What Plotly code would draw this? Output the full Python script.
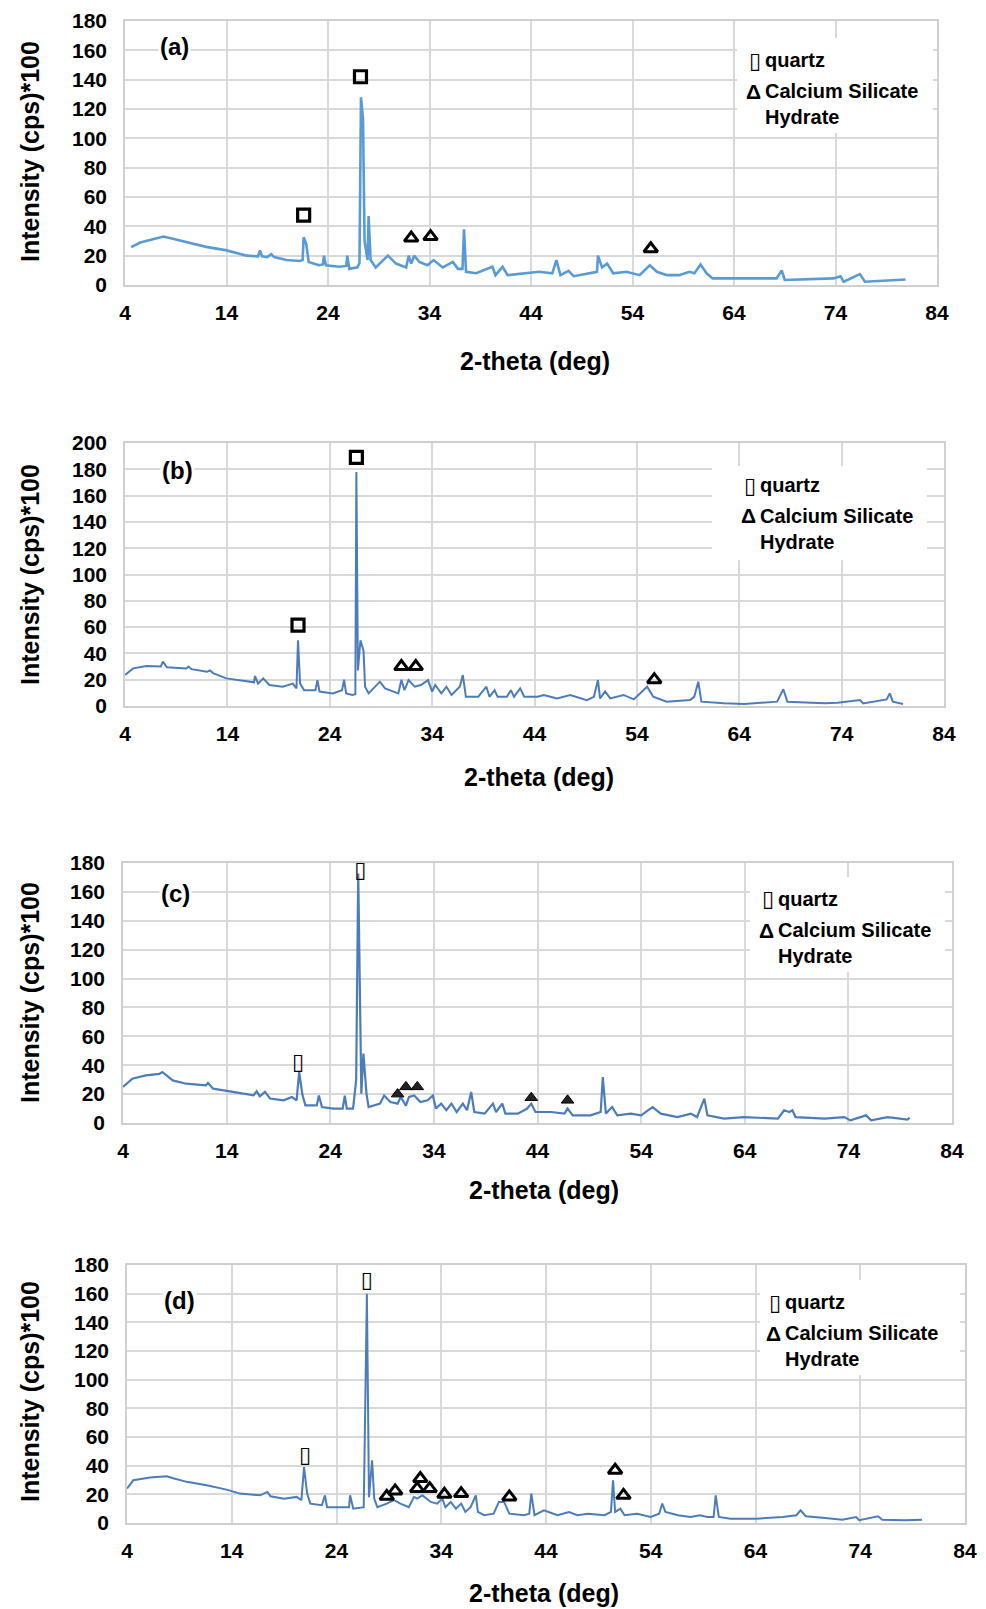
import plotly.graph_objects as go

# page body adds an 8px offset; the figure fills the rest of the 986x1609 window
OFF = 8
W, H = 986 - OFF, 1609 - OFF

# ---------------- data (2-theta in deg, intensity in cps*100) ----------------
A_X = [4.6, 5.5, 7.8, 9.7, 12, 14, 16, 17.1, 17.3, 17.5, 18, 18.4, 18.7, 19.9, 21.2, 21.5, 21.6, 21.85, 22.1,
       23.1, 23.5, 23.6, 23.8, 25.1, 25.8, 25.9, 26.1, 26.9, 27.1, 27.25, 27.45, 27.6, 27.9, 28.0, 28.2, 28.7,
       29.9, 30.7, 31.7, 31.95, 32.2, 32.5, 33, 33.8, 34.4, 35.3, 36.3, 36.8, 37.25, 37.4, 37.6, 38.6, 40.2,
       40.5, 41.2, 41.7, 42.9, 44.8, 46.1, 46.5, 46.9, 47.7, 48.2, 50, 50.5, 50.6, 51, 51.5, 52.1, 53.4, 54.7,
       55.7, 56.4, 57.4, 58.6, 59.6, 60.1, 60.7, 61.3, 61.9, 63.9, 68.2, 68.7, 69, 73.8, 74.5, 74.8, 76.4,
       76.9, 80.9]
A_Y = [25.8, 29, 33, 30, 26, 23.6, 20, 19.5, 23.6, 19.5, 19, 21, 19, 17, 16.4, 17, 32.6, 28, 15.7,
       13.5, 14, 20, 13.5, 12.4, 13, 20, 11, 12, 15, 128, 113.5, 30, 17, 47, 17, 12,
       20, 14.6, 12, 20, 14.6, 20, 15.7, 13.5, 17, 12, 15.7, 11, 11, 38, 9, 8, 12.4,
       6.7, 12.4, 6.7, 7.4, 9, 8, 17, 6.7, 9.7, 6, 8, 9, 20, 12, 14.6, 8, 9, 6.7,
       13.5, 9, 6.7, 6.7, 9, 8, 14, 8, 4.5, 4.5, 4.5, 10, 3.4, 4.5, 6, 2.2, 7.4,
       2.2, 3.8]
A_QX = [21.6, 27.2]
A_QY = [47.6, 142]
A_CX = [32.2, 34.1, 55.8]
A_CY = [32, 33, 24.7]

B_X = [4, 4.8, 6.1, 7.5, 7.7, 8.1, 10, 10.2, 10.5, 12, 12.3, 12.6, 13.9, 15.9, 16.6, 16.7, 17, 17.5, 18.1,
       19.4, 20.4, 20.75, 20.9, 21.1, 21.5, 22.6, 22.8, 23, 24.3, 25.2, 25.4, 25.6, 26.2, 26.5, 26.6, 26.75,
       27.0, 27.3, 27.45, 27.8, 28.9, 29.4, 30.7, 31, 31.3, 31.7, 32.3, 32.9, 33.6, 34, 34.3, 34.9, 35.4,
       35.9, 36.7, 37.0, 37.3, 38.5, 39.3, 39.6, 40.1, 40.4, 41.3, 41.7, 42, 42.6, 43, 44.3, 44.9, 46.2,
       47.5, 49.1, 49.8, 50.2, 50.4, 50.9, 51.4, 52.7, 53.7, 55, 55.6, 56.9, 59.2, 59.6, 60, 60.3, 62.5,
       64.5, 67.7, 68.3, 68.7, 72.3, 73.6, 75.8, 76.1, 78.4, 78.7, 79, 80]
B_Y = [23.5, 28.6, 30.4, 30, 33.7, 29.4, 28.6, 30, 28, 26, 27, 25, 21, 18.5, 18, 22.8, 17, 21, 16,
       14.7, 17, 13.4, 50, 17, 12, 12, 19.7, 11, 9.6, 12, 20, 9.6, 8.4, 9, 178, 27,
       50, 42, 14.7, 9.6, 18.5, 13.4, 9.6, 20, 12, 19.7, 14.7, 16, 19.7, 11, 16, 9.6, 14.7,
       8.4, 14.7, 23.5, 7, 7, 14.7, 7, 12, 7, 7, 12, 7, 13.4, 7, 7, 8.4, 5.8,
       8.4, 4.5, 7, 19.7, 5.8, 11, 5.8, 8.4, 5, 14.7, 7, 3.3, 4.5, 7, 18.5, 3.3, 2,
       1.5, 3.3, 12.7, 3.3, 2, 2.5, 4.5, 2, 5, 9.6, 3.3, 1.5]
B_QX = [20.9, 26.6]
B_QY = [61.5, 189]
B_CX = [31.0, 32.4, 55.7]
B_CY = [30, 30, 20]

C_X = [4, 4.9, 6.2, 7.5, 7.8, 8.8, 10.1, 12, 12.2, 12.7, 14.6, 16.6, 16.9, 17.2, 17.7, 18.2, 19.5, 20.3,
       20.75, 21, 21.3, 21.6, 22.7, 22.9, 23.2, 24.3, 25.2, 25.4, 25.6, 26.2, 26.5, 26.7, 27, 27.2, 27.5,
       27.7, 28.8, 29.2, 29.8, 30.5, 30.8, 31.3, 31.6, 32.1, 32.7, 33.4, 33.9, 34.2, 34.7, 35.2, 35.7,
       36.2, 36.8, 37.2, 37.6, 37.9, 38.9, 39.7, 40, 40.6, 40.9, 42.1, 43, 43.4, 43.8, 45.3, 46.6, 46.9,
       47.4, 49.1, 50.1, 50.3, 50.6, 51.2, 51.7, 53, 54, 55.1, 55.9, 57.5, 58.8, 59.4, 60.1, 60.4, 62,
       63.9, 67.2, 67.8, 68.3, 68.6, 68.9, 71.7, 73.6, 74.2, 75.7, 76.2, 77.8, 79.7, 79.9]
C_Y = [25, 30.7, 33, 34, 35.3, 29.5, 27.2, 26, 27.7, 23.8, 21.5, 19.2, 22, 18.5, 21.5, 16.9, 15.7, 18,
       15.7, 35.3, 20, 12.2, 12.2, 19, 11, 10, 10, 19, 10, 10, 29.5, 172.7, 20.3, 48, 20,
       11, 13.4, 19, 14.5, 13.4, 18, 12, 18, 19, 14.5, 15.7, 19, 10, 13.4, 8.8, 13.4,
       7.6, 13.4, 8.8, 21.5, 7.6, 6.5, 13.4, 7.6, 13.4, 6.5, 6.5, 10, 13.4, 7.6, 7.6, 6.5, 10,
       5.3, 5.3, 7.6, 31.8, 6.5, 11, 5.3, 6.5, 5.3, 11, 6.5, 4.1, 6.5, 4.1, 16.9, 5.3, 3,
       4.1, 3, 8.8, 7.6, 8.8, 4.1, 3, 4.1, 1.8, 5.3, 1.8, 4.1, 2.3, 3.7]
C_QX = [20.9, 26.9]
C_QY = [41.5, 174]
C_CX = [30.5, 31.3, 32.4, 43.4, 46.9]
C_CY = [20, 25, 25, 17.5, 15.7]

D_X = [4, 4.6, 6.2, 7.8, 8.5, 9.7, 11.6, 13.5, 14.8, 16.7, 17.4, 17.7, 19, 20.2, 20.65, 20.9, 21.2, 21.5,
       22.6, 22.9, 23.1, 24.1, 25.2, 25.3, 25.6, 26.6, 26.9, 27.1, 27.4, 27.6, 27.9, 28.8, 29.5, 30.1,
       30.9, 31.4, 31.7, 32.2, 33, 33.6, 34.1, 34.4, 34.9, 35.4, 35.9, 36.3, 36.8, 37.3, 37.5, 38.1, 39,
       39.5, 40, 40.5, 41.9, 42.4, 42.6, 42.9, 43.8, 45.1, 46.2, 47, 48, 49.6, 50.2, 50.4, 50.6, 51.1,
       51.5, 52.7, 54, 54.8, 55.1, 55.4, 56.6, 57.8, 58.7, 59.4, 60, 60.2, 60.5, 61.6, 64.1, 66.6, 67.9,
       68.3, 68.8, 70.4, 72.3, 73.6, 73.9, 75.7, 76.1, 78.3, 79.9]
D_Y = [24, 29.8, 31.7, 32.6, 31, 28.7, 26.3, 23.3, 20.5, 19.3, 21.7, 18.6, 17, 18.2, 15.9, 39, 20.5, 13.5,
       12.4, 19.3, 11, 11, 11, 19.3, 10, 11, 160, 18, 43.8, 17, 11, 13.5, 15.9, 13.5,
       11, 18.2, 17, 19.3, 14.7, 13.5, 17, 11, 14.7, 10, 13.5, 7.7, 11, 19.3, 7.7, 5.4, 6.5,
       14.7, 14.7, 6.5, 5.4, 6.5, 20.5, 5.4, 8.8, 5.4, 7.7, 5.4, 6.5, 5.4, 7.7, 29.8, 7.7, 10,
       5.4, 6.5, 4.2, 6.5, 13.5, 7.7, 5.4, 4.2, 5.4, 4.2, 4.2, 19.3, 4.2, 3, 3, 4.2, 5.4,
       8.9, 4.7, 3.7, 2.3, 4.2, 1.9, 4.7, 2.3, 1.9, 2.3]
D_QX = [21.0, 26.9]
D_QY = [46.6, 168.5]
D_CX = [28.8, 29.6, 31.7, 32.0, 32.9, 34.3, 35.9, 40.5, 50.6, 51.4]
D_CY = [18.6, 22.4, 24, 31, 24, 20, 20.5, 18.2, 36.8, 19.3]

PANEL_LABELS = ["(a)", "(b)", "(c)", "(d)"]
Y_MAX = [180, 200, 180, 180]
X_TICKS = [4, 14, 24, 34, 44, 54, 64, 74, 84]
Y_TITLE = "Intensity (cps)*100"
X_TITLE = "2-theta (deg)"
LEG_Q = "quartz"
LEG_C1 = "Calcium Silicate"
LEG_C2 = "Hydrate"

# ---------------- layout geometry (window pixels) ----------------
AREAS = [(125, 937, 21, 285), (125, 944, 443, 706), (123, 952, 863, 1123), (127, 965, 1265, 1523)]
XTITLE_Y = [361, 777, 1190, 1593]
XTITLE_X = [535, 539, 544, 544]
YTITLE_Y = [152, 575, 993, 1392]
LABEL_POS = [(174, 46), (177, 470), (175, 893), (179, 1300)]
LEG_POS = [(747, 60), (742, 485), (760, 899), (767, 1302)]
LEG_BOX = [(737, 933, 38, 133), (712, 927, 466, 560), (750, 945, 877, 972), (760, 960, 1280, 1375)]
LINE_COL = ["#5b9bd5", "#4d7cbb", "#4d7cbb", "#4d7cbb"]
LINE_W = [2.6, 2.0, 2.2, 2.0]


def px(x):
    return (x - OFF) / W


def py(y):
    return 1 - (y - OFF) / H


FONT = "Liberation Sans, Arial, sans-serif"
data = [(A_X, A_Y, A_QX, A_QY, A_CX, A_CY),
        (B_X, B_Y, B_QX, B_QY, B_CX, B_CY),
        (C_X, C_Y, C_QX, C_QY, C_CX, C_CY),
        (D_X, D_Y, D_QX, D_QY, D_CX, D_CY)]

fig = go.Figure()
layout = dict(width=W, height=H, margin=dict(l=0, r=0, t=0, b=0, pad=0, autoexpand=False),
              paper_bgcolor="white", plot_bgcolor="white", showlegend=False)
annotations = []
shapes = []

for i, (xs, ys, qx, qy, cx, cy) in enumerate(data):
    n = "" if i == 0 else str(i + 1)
    xa, ya = "x" + n, "y" + n
    l, r, t, b = AREAS[i]
    layout["xaxis" + n] = dict(domain=[px(l), px(r)], anchor=ya, range=[4, 84], tickvals=X_TICKS,
                               showgrid=True, gridcolor="#d9d9d9", gridwidth=1.5, automargin=False,
                               showline=True, linecolor="#d0d0d0", linewidth=1.5, mirror=True,
                               zeroline=False, ticks="", ticklabelstandoff=8, ticklabeloverflow="allow",
                               tickfont=dict(family=FONT, size=21, color="black", weight="bold"))
    layout["yaxis" + n] = dict(domain=[py(b), py(t)], anchor=xa, range=[0, Y_MAX[i]], dtick=20,
                               showgrid=True, gridcolor="#d9d9d9", gridwidth=1.5, automargin=False,
                               showline=True, linecolor="#d0d0d0", linewidth=1.5, mirror=True,
                               zeroline=False, ticks="", ticklabelstandoff=12, ticklabeloverflow="allow",
                               tickfont=dict(family=FONT, size=21, color="black", weight="bold"))
    fig.add_trace(go.Scatter(x=xs, y=ys, mode="lines", xaxis=xa, yaxis=ya,
                             line=dict(color=LINE_COL[i], width=LINE_W[i])))
    if i < 2:
        fig.add_trace(go.Scatter(x=qx, y=qy, mode="markers", xaxis=xa, yaxis=ya,
                                 marker=dict(symbol="square-open", size=12, color="black",
                                             line=dict(width=3.2, color="black"))))
    else:
        fig.add_trace(go.Scatter(x=qx, y=qy, mode="text", text=["▯"] * len(qx), xaxis=xa, yaxis=ya,
                                 textfont=dict(family="DejaVu Sans", size=22, color="black", weight="bold")))
    if i == 2:
        fig.add_trace(go.Scatter(x=cx, y=cy, mode="markers", xaxis=xa, yaxis=ya,
                                 marker=dict(symbol="triangle-up", size=11, color="#222222",
                                             line=dict(width=1, color="black"))))
    else:
        fig.add_trace(go.Scatter(x=cx, y=cy, mode="markers", xaxis=xa, yaxis=ya,
                                 marker=dict(symbol="triangle-up-open", size=12, color="black",
                                             line=dict(width=3, color="black"))))

    # legend box + text
    bl, br, bt, bb = LEG_BOX[i]
    shapes.append(dict(type="rect", xref="paper", yref="paper", x0=px(bl), x1=px(br),
                       y0=py(bb), y1=py(bt), fillcolor="white", line=dict(width=0), layer="above"))
    lx, ly = LEG_POS[i]
    annotations.append(dict(xref="paper", yref="paper", x=px(lx), y=py(ly), xanchor="left", yanchor="middle",
                            text="▯", showarrow=False,
                            font=dict(family="DejaVu Sans", size=22, color="black", weight="bold")))
    annotations.append(dict(xref="paper", yref="paper", x=px(lx + 16), y=py(ly), xanchor="left", yanchor="middle",
                            text=LEG_Q, showarrow=False,
                            font=dict(family=FONT, size=20, color="black", weight="bold")))
    annotations.append(dict(xref="paper", yref="paper", x=px(lx - 3), y=py(ly + 31), xanchor="left", yanchor="middle",
                            text="Δ", showarrow=False,
                            font=dict(family=FONT, size=21, color="black", weight="bold")))
    annotations.append(dict(xref="paper", yref="paper", x=px(lx + 16), y=py(ly + 31), xanchor="left", yanchor="middle",
                            text=LEG_C1, showarrow=False,
                            font=dict(family=FONT, size=20, color="black", weight="bold")))
    annotations.append(dict(xref="paper", yref="paper", x=px(lx + 16), y=py(ly + 57), xanchor="left", yanchor="middle",
                            text=LEG_C2, showarrow=False,
                            font=dict(family=FONT, size=20, color="black", weight="bold")))
    # panel label
    lbx, lby = LABEL_POS[i]
    annotations.append(dict(xref="paper", yref="paper", x=px(lbx), y=py(lby), xanchor="center", yanchor="middle",
                            text=PANEL_LABELS[i], showarrow=False, bgcolor="white",
                            font=dict(family=FONT, size=24, color="black", weight="bold")))
    # axis titles
    annotations.append(dict(xref="paper", yref="paper", x=px(XTITLE_X[i]), y=py(XTITLE_Y[i]),
                            xanchor="center", yanchor="middle", text=X_TITLE, showarrow=False,
                            font=dict(family=FONT, size=25, color="black", weight="bold")))
    annotations.append(dict(xref="paper", yref="paper", x=px(30), y=py(YTITLE_Y[i]),
                            xanchor="center", yanchor="middle", text=Y_TITLE, showarrow=False, textangle=-90,
                            font=dict(family=FONT, size=25, color="black", weight="bold")))

layout["annotations"] = annotations
layout["shapes"] = shapes
fig.update_layout(**layout)
fig.write_html("out.html")
